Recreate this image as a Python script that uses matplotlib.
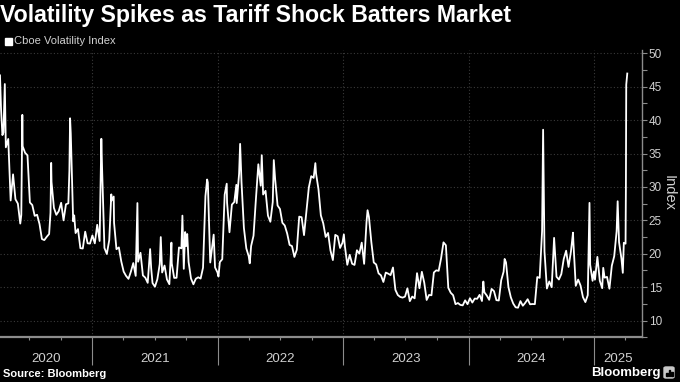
import matplotlib
matplotlib.use('Agg')
import matplotlib.dates as mdates
import matplotlib.pyplot as plt
import matplotlib.patches as mpatches
import matplotlib.transforms as mtransforms
import pandas as pd

# Chart text
TITLE = 'Volatility Spikes as Tariff Shock Batters Market'
LEGEND_LABEL = 'Cboe Volatility Index'
Y_LABEL = 'Index'
SOURCE = 'Source: Bloomberg'

# Colours
BG = '#000000'
LINE = '#ffffff'
GRID = '#3a3a3a'
AXIS = '#8c8c8c'
TEXT = '#d0d0d0'

FONT = ['Liberation Sans', 'DejaVu Sans']

# Weekly (Friday) closes of the VIX, per year
vix_2020 = [41.67, 38.15, 35.93, 37.19, 27.98, 31.89, 28.16, 27.51, 24.52, 36.09,
            35.12, 34.73, 27.68, 27.29, 25.68, 25.84, 24.46, 22.21, 22.05, 22.54,
            22.96, 30.75, 26.87, 25.83, 26.38, 27.63, 25.00, 27.41, 27.55, 38.02,
            24.86, 23.10, 23.70, 20.84, 20.79, 23.31, 21.57, 21.53]
vix_2021 = [22.75, 21.56, 24.34, 21.91, 33.09, 20.87, 19.97, 22.05, 27.95, 24.66,
            20.69, 20.95, 18.86, 17.33, 16.69, 16.25, 17.33, 18.61, 16.69, 18.81,
            20.15, 16.76, 16.42, 15.65, 20.70, 15.62, 15.07, 16.18, 18.45, 17.20,
            18.24, 16.15, 15.45, 18.56, 16.39, 16.41, 20.95, 20.81, 17.75, 21.15,
            18.77, 16.30, 15.43, 16.26, 16.48, 16.29, 17.91, 28.62, 30.67, 18.69,
            21.57, 17.96, 17.22]
vix_2022 = [18.76, 19.19, 28.85, 27.66, 23.22, 27.36, 27.75, 27.59, 31.98, 30.75,
            23.87, 20.81, 19.63, 21.16, 22.70, 28.21, 33.40, 30.19, 28.87, 29.43,
            25.72, 24.79, 27.75, 31.13, 27.23, 26.70, 24.64, 24.23, 23.03, 21.33,
            21.15, 19.53, 20.60, 25.56, 25.47, 22.79, 26.30, 29.92, 31.62, 31.36,
            32.02, 29.69, 25.75, 24.55, 22.52, 23.12, 20.50, 19.06, 22.83, 22.62,
            20.87, 21.67]
vix_2023 = [21.13, 18.35, 19.85, 18.51, 18.33, 20.53, 20.02, 21.67, 18.49, 24.80,
            25.51, 21.74, 18.70, 18.40, 17.07, 16.77, 15.78, 17.19, 17.03, 16.81,
            17.95, 14.60, 13.83, 13.54, 13.44, 13.59, 14.83, 12.91, 13.60, 13.33,
            17.10, 14.84, 17.30, 15.68, 13.09, 13.84, 13.79, 17.20, 17.52, 17.45,
            19.32, 21.71, 21.27, 14.91, 14.17, 13.80, 12.46, 12.63, 12.35, 12.28,
            13.03, 12.45]
vix_2024 = [13.35, 12.70, 13.30, 13.26, 13.85, 12.93, 14.24, 13.75, 13.11, 14.74,
            14.41, 13.06, 13.01, 16.03, 17.31, 18.71, 15.03, 13.49, 12.55, 11.99,
            11.93, 12.92, 12.22, 12.66, 13.20, 12.44, 12.48, 12.46, 16.52, 16.39,
            23.39, 20.37, 14.80, 15.86, 15.00, 22.38, 16.56, 16.15, 16.96, 19.21,
            20.46, 18.03, 20.33, 21.88, 15.20, 16.14, 15.24, 13.51, 12.77, 13.81,
            18.36, 15.95]
vix_2025 = [16.13, 19.54, 15.97, 14.85, 16.43, 16.54, 14.77, 18.21, 19.63, 23.37,
            21.77, 19.28, 21.65, 45.31]
first_fridays = ['2020-04-10', '2021-01-01', '2022-01-07', '2023-01-06', '2024-01-05', '2025-01-03']

# Daily closes on the spike / trough days between the Fridays
spike_dates = ['2020-04-07', '2020-04-14', '2020-04-21', '2020-06-08', '2020-06-11',
               '2020-09-01', '2020-09-03', '2020-10-26', '2020-10-28', '2020-11-09',
               '2021-01-27', '2021-02-25', '2021-03-04', '2021-05-12', '2021-06-21',
               '2021-07-19', '2021-08-19', '2021-09-20', '2021-09-28', '2021-10-04',
               '2021-12-01', '2021-12-20', '2022-01-03', '2022-01-27', '2022-02-24',
               '2022-03-07', '2022-04-04', '2022-05-09', '2022-06-13', '2022-10-12',
               '2023-01-03', '2023-03-13', '2024-02-13', '2024-04-15', '2024-08-05',
               '2024-10-31', '2024-12-18', '2024-12-31', '2025-01-27', '2025-03-10',
               '2025-03-25', '2025-04-02', '2025-04-03', '2025-04-07']
spike_vals = [46.70, 37.76, 45.41, 25.81, 40.79,
              26.12, 33.60, 32.46, 40.28, 25.75,
              37.21, 28.89, 28.57, 27.59, 17.89,
              22.50, 21.67, 25.71, 23.25, 22.96,
              31.12, 22.87, 16.60, 30.49, 30.32,
              36.45, 18.57, 34.75, 34.02, 33.57,
              22.90, 26.52, 15.85, 19.23, 38.57,
              23.16, 27.62, 17.35, 17.90, 27.86,
              17.15, 21.51, 30.02, 46.98]

years = [2020, 2021, 2022, 2023, 2024, 2025]
y_ticks = [10, 15, 20, 25, 30, 35, 40, 45, 50]

X_START = pd.Timestamp('2020-04-07')
X_END = pd.Timestamp('2025-05-19')


def build_series():
    parts = []
    for start, values in zip(first_fridays, [vix_2020, vix_2021, vix_2022, vix_2023, vix_2024, vix_2025]):
        idx = pd.date_range(start, periods=len(values), freq='W-FRI')
        parts.append(pd.Series(values, index=idx))
    parts.append(pd.Series(spike_vals, index=pd.to_datetime(spike_dates)))
    s = pd.concat(parts).sort_index()
    return s[~s.index.duplicated(keep='last')]


def draw_chart(series):
    fig = plt.figure(figsize=(6.8, 3.82), dpi=100, facecolor=BG)
    ax = fig.add_axes([0, 44.7 / 382, 641.7 / 680, 287.3 / 382], facecolor=BG)
    ax.plot(series.index, series.values, color=LINE, lw=1.3, solid_joinstyle='round')

    ax.set_xlim(X_START, X_END)
    ax.set_ylim(8.26, 50.5)

    # y axis on the right
    ax.yaxis.tick_right()
    ax.set_yticks(y_ticks)
    ax.set_yticks([t + 2.5 for t in y_ticks[:-1]] + [7.5], minor=True)
    ax.tick_params(axis='y', which='both', colors=AXIS, direction='out', length=3.5, width=0.8,
                   labelcolor=TEXT, labelsize=8.5, pad=1.5)
    for lbl in ax.get_yticklabels():
        lbl.set_family(FONT)

    # x axis: quarter ticks, long year dividers, labels centred in each year
    year_starts = [pd.Timestamp(f'{y}-01-01') for y in years[1:]]
    ax.set_xticks(year_starts)
    ax.xaxis.set_major_formatter(plt.NullFormatter())
    ax.xaxis.set_minor_locator(mdates.MonthLocator(bymonth=[4, 7, 10]))
    ax.tick_params(axis='x', which='major', colors=AXIS, direction='out', length=20, width=0.8)
    ax.tick_params(axis='x', which='minor', colors=AXIS, direction='out', length=2.5, width=0.8)

    trans = mtransforms.blended_transform_factory(ax.transData, fig.transFigure)
    for y in years:
        left = max(pd.Timestamp(f'{y}-01-01'), X_START)
        right = min(pd.Timestamp(f'{y + 1}-01-01'), X_END)
        mid = mdates.date2num(left) + (mdates.date2num(right) - mdates.date2num(left)) / 2
        ax.text(mid, 1 - 359 / 382, str(y), transform=trans, ha='center', va='center',
                color=TEXT, fontsize=9.5, family=FONT)

    # grid
    for t in y_ticks:
        ax.axhline(t, color=GRID, lw=0.8, ls=(0, (1, 2)), zorder=0)
    for d in year_starts:
        ax.axvline(d, color=GRID, lw=0.8, ls=(0, (1, 2)), zorder=0)

    for side in ['top', 'left']:
        ax.spines[side].set_visible(False)
    ax.spines['bottom'].set_color(AXIS)
    ax.spines['bottom'].set_linewidth(1.6)
    ax.spines['right'].set_color(AXIS)
    ax.spines['right'].set_linewidth(1.0)

    fig.text(669 / 680, 1 - 193 / 382, Y_LABEL, rotation=270, ha='center', va='center',
             color=TEXT, fontsize=10.5, family=FONT)

    # title, fitted to the width it takes in the reference
    title = fig.text(0.0, 1 - 4 / 382, TITLE, ha='left', va='top', color='white',
                     fontsize=16, fontweight='bold', family=FONT)
    fig.canvas.draw()
    width = title.get_window_extent().width
    title.set_fontsize(16 * 512 / width)

    # legend
    fig.patches.append(mpatches.Rectangle((5 / 680, 1 - 45 / 382), 7 / 680, 7 / 382,
                                          transform=fig.transFigure, color='white'))
    fig.text(14 / 680, 1 - 41 / 382, LEGEND_LABEL, ha='left', va='center', color=TEXT,
             fontsize=8, family=FONT)

    # footer
    fig.text(3 / 680, 1 - 374 / 382, SOURCE, ha='left', va='center', color='white',
             fontsize=8, fontweight='bold', family=FONT)
    fig.text(661 / 680, 1 - 373 / 382, 'Bloomberg', ha='right', va='center', color='white',
             fontsize=9.5, fontweight='bold', family=FONT)
    fig.patches.append(mpatches.FancyBboxPatch((664 / 680, 1 - 378 / 382), 10 / 680, 11 / 382,
                                               boxstyle='round,pad=0,rounding_size=0.003',
                                               transform=fig.transFigure, color='#c8c8c8'))
    for i, h in enumerate([3, 6, 4]):
        fig.patches.append(mpatches.Rectangle(((666 + i * 2.5) / 680, 1 - 376 / 382), 1.5 / 680, h / 382,
                                              transform=fig.transFigure, color=BG))
    return fig


def main():
    series = build_series()
    fig = draw_chart(series)
    fig.savefig('out.png', dpi=100, facecolor=BG)


main()
